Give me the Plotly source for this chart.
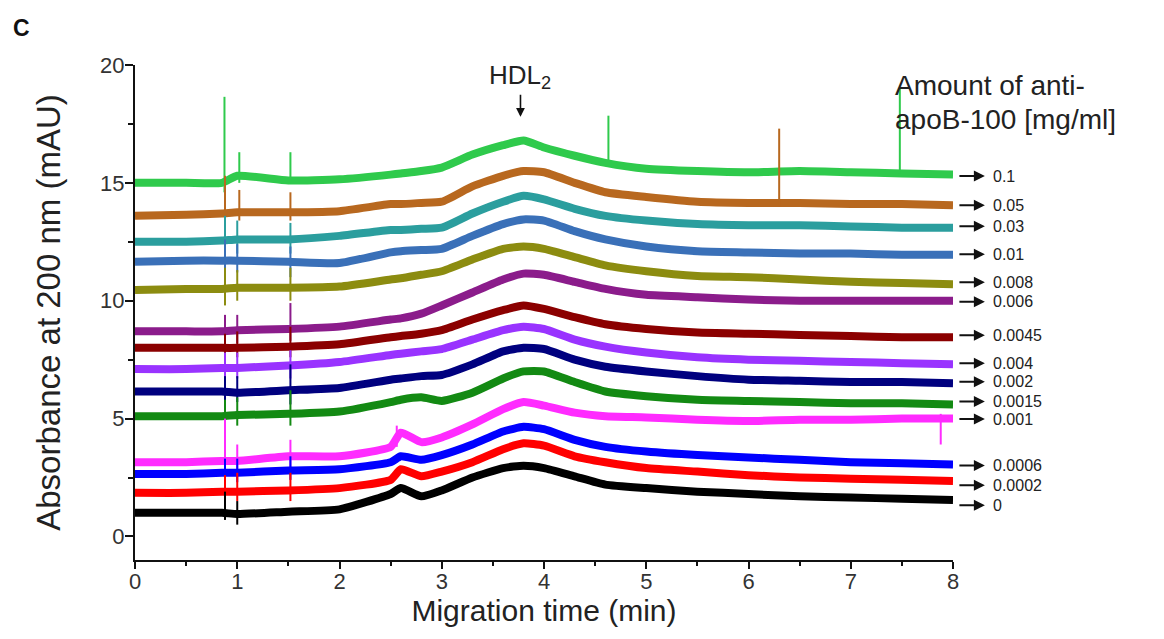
import plotly.graph_objects as go

# ---------------- data ----------------
times = [0, 0.5, 0.85, 1.0, 1.5, 2.0, 2.5, 2.6, 2.8, 3.0, 3.3, 3.6, 3.8, 4.0,
         4.3, 4.6, 5.0, 5.5, 6.0, 6.5, 7.0, 7.5, 8.0]

labels = ["0.1", "0.05", "0.03", "0.01", "0.008", "0.006", "0.0045",
          "0.004", "0.002", "0.0015", "0.001", "0.0006", "0.0002", "0"]

label_y = [15.29, 14.05, 13.16, 11.97, 10.78, 9.96, 8.54, 7.35, 6.56,
           5.72, 4.98, 3.01, 2.17, 1.32]

s_0_1 = [15.0, 15.0, 15.0, 15.3, 15.1, 15.15, 15.35, 15.4, 15.5, 15.65, 16.2, 16.6,
         16.8, 16.5, 16.15, 15.85, 15.6, 15.5, 15.45, 15.5, 15.45, 15.4, 15.35]
s_0_05 = [13.6, 13.65, 13.7, 13.75, 13.75, 13.8, 14.1, 14.1, 14.15, 14.2, 14.85, 15.3,
          15.5, 15.45, 15.0, 14.6, 14.4, 14.2, 14.15, 14.15, 14.1, 14.1, 14.05]
s_0_03 = [12.5, 12.5, 12.55, 12.6, 12.6, 12.75, 13.0, 13.0, 13.05, 13.1, 13.7, 14.2,
          14.45, 14.3, 13.9, 13.6, 13.4, 13.25, 13.2, 13.2, 13.15, 13.1, 13.1]
s_0_01 = [11.65, 11.7, 11.7, 11.7, 11.65, 11.6, 12.05, 12.1, 12.15, 12.2, 12.75, 13.25,
          13.45, 13.4, 12.95, 12.6, 12.3, 12.1, 12.05, 12.0, 12.0, 11.95, 11.95]
s_0_008 = [10.45, 10.5, 10.5, 10.55, 10.55, 10.6, 10.9, 10.95, 11.1, 11.25, 11.75, 12.2,
           12.3, 12.2, 11.85, 11.5, 11.25, 11.05, 11.0, 10.9, 10.8, 10.75, 10.7]
s_0_006 = [8.7, 8.7, 8.7, 8.75, 8.8, 8.9, 9.2, 9.25, 9.45, 9.8, 10.35, 10.9,
           11.15, 11.1, 10.8, 10.5, 10.25, 10.15, 10.05, 10.0, 10.0, 10.0, 10.0]
s_0_0045 = [8.0, 8.0, 8.0, 8.0, 8.05, 8.15, 8.45, 8.5, 8.6, 8.75, 9.2, 9.6,
            9.8, 9.65, 9.3, 9.0, 8.8, 8.65, 8.6, 8.55, 8.5, 8.45, 8.45]
s_0_004 = [7.1, 7.1, 7.15, 7.15, 7.25, 7.4, 7.7, 7.75, 7.85, 7.95, 8.35, 8.75,
           8.9, 8.8, 8.35, 8.05, 7.8, 7.6, 7.5, 7.45, 7.4, 7.35, 7.3]
s_0_002 = [6.15, 6.15, 6.15, 6.1, 6.2, 6.3, 6.65, 6.7, 6.8, 6.85, 7.3, 7.85,
           8.0, 7.95, 7.5, 7.2, 7.0, 6.8, 6.65, 6.6, 6.55, 6.55, 6.5]
s_0_0015 = [5.1, 5.1, 5.1, 5.15, 5.2, 5.3, 5.7, 5.8, 5.9, 5.75, 6.1, 6.7,
            7.0, 7.0, 6.55, 6.15, 5.95, 5.8, 5.75, 5.7, 5.65, 5.65, 5.6]
s_0_001 = [3.15, 3.15, 3.2, 3.2, 3.4, 3.4, 3.8, 4.4, 4.0, 4.2, 4.75, 5.4,
           5.7, 5.55, 5.25, 5.1, 5.05, 4.95, 4.9, 4.95, 4.95, 5.0, 5.0]
s_0_0006 = [2.65, 2.65, 2.7, 2.7, 2.8, 2.85, 3.15, 3.4, 3.25, 3.45, 3.9, 4.45,
            4.65, 4.55, 4.1, 3.8, 3.6, 3.45, 3.35, 3.25, 3.15, 3.1, 3.05]
s_0_0002 = [1.85, 1.85, 1.9, 1.9, 1.95, 2.05, 2.4, 2.85, 2.55, 2.75, 3.15, 3.7,
            3.95, 3.85, 3.4, 3.15, 2.9, 2.75, 2.6, 2.5, 2.45, 2.4, 2.35]
s_0 = [1.0, 1.0, 1.0, 0.95, 1.05, 1.15, 1.8, 2.05, 1.7, 1.95, 2.5, 2.9,
       3.0, 2.9, 2.55, 2.2, 2.05, 1.9, 1.8, 1.7, 1.65, 1.6, 1.55]

# spikes: (time, low, high)
k_0_1 = [(0.875, 14.6, 18.65), (1.02, 15.0, 16.3), (1.52, 15.0, 16.3),
         (4.63, 15.8, 17.85), (7.48, 15.4, 19.0)]
k_0_05 = [(0.88, 13.0, 15.3), (1.02, 13.4, 14.7), (1.52, 13.4, 14.6), (6.3, 14.0, 17.3)]
k_0_03 = [(0.88, 11.8, 13.6), (1.0, 12.0, 13.4), (1.52, 12.0, 13.3)]
k_0_01 = [(0.88, 11.0, 12.6), (1.0, 11.2, 12.4), (1.52, 11.0, 12.3)]
k_0_008 = [(0.88, 9.8, 11.4), (1.0, 10.0, 11.3), (1.52, 10.0, 11.4)]
k_0_006 = [(0.88, 5.0, 9.4), (1.0, 8.2, 9.4), (1.52, 8.3, 9.9)]
k_0_0045 = [(0.88, 6.0, 8.6), (1.0, 7.6, 8.7), (1.52, 7.6, 8.9)]
k_0_004 = [(0.88, 6.5, 7.8), (1.0, 6.7, 7.8), (1.52, 6.7, 7.9)]
k_0_002 = [(0.88, 5.5, 6.8), (1.0, 5.7, 6.8), (1.52, 5.6, 7.3)]
k_0_0015 = [(0.88, 4.5, 5.8), (1.0, 4.7, 5.9), (1.52, 4.7, 6.2)]
k_0_001 = [(0.88, 2.5, 5.0), (1.0, 2.8, 3.9), (1.52, 2.9, 4.1), (2.56, 3.8, 4.7),
           (7.88, 3.9, 5.2)]
k_0_0006 = [(0.88, 2.0, 3.3), (1.0, 2.3, 3.3), (1.52, 2.4, 3.4)]
k_0_0002 = [(0.88, 1.3, 2.6), (1.0, 1.5, 2.7), (1.52, 1.5, 2.7)]
k_0 = [(0.88, 0.7, 1.9), (1.0, 0.5, 1.5)]

series = [s_0_1, s_0_05, s_0_03, s_0_01, s_0_008, s_0_006, s_0_0045,
          s_0_004, s_0_002, s_0_0015, s_0_001, s_0_0006, s_0_0002, s_0]
spikes = [k_0_1, k_0_05, k_0_03, k_0_01, k_0_008, k_0_006, k_0_0045,
          k_0_004, k_0_002, k_0_0015, k_0_001, k_0_0006, k_0_0002, k_0]

colors = ["#2fca4c", "#b8681f", "#2b9e9e", "#3a70b8", "#8c8c10", "#8b1c8b",
          "#8b0000", "#9933ff", "#00007f", "#138a13", "#ff2bff", "#0000ff",
          "#ff0000", "#000000"]

FONT = "Liberation Sans, Arial, sans-serif"

fig = go.Figure()
for lab, ys, sp, col in zip(labels, series, spikes, colors):
    fig.add_trace(go.Scatter(x=times, y=ys, mode="lines", name=lab,
                             line=dict(color=col, width=8, shape="spline",
                                       smoothing=0.5),
                             showlegend=False, hoverinfo="skip"))
    sx, sy = [], []
    for t, lo, hi in sp:
        sx += [t, t, None]
        sy += [lo, hi, None]
    fig.add_trace(go.Scatter(x=sx, y=sy, mode="lines",
                             line=dict(color=col, width=2),
                             showlegend=False, hoverinfo="skip"))

annotations = []
for lab, ly in zip(labels, label_y):
    annotations.append(dict(xref="paper", yref="y", x=1.039, y=ly, ax=-27, ay=0,
                            text="", showarrow=True, arrowhead=2, arrowsize=1.1,
                            arrowwidth=2, arrowcolor="#111"))
    annotations.append(dict(xref="paper", yref="y", x=1.046, y=ly, text=lab,
                            showarrow=False, xanchor="left", yanchor="middle",
                            font=dict(family=FONT, size=16, color="#222")))

annotations += [
    dict(xref="x", yref="y", x=3.77, y=17.8, ax=0, ay=-40, text="HDL<sub>2</sub>",
         showarrow=True, arrowhead=2, arrowsize=1.1, arrowwidth=1.6,
         arrowcolor="#111", font=dict(family=FONT, size=26, color="#222")),
    dict(xref="paper", yref="paper", x=0.927, y=0.958, text="Amount of anti-",
         showarrow=False, xanchor="left", yanchor="middle",
         font=dict(family=FONT, size=28, color="#222")),
    dict(xref="paper", yref="paper", x=0.927, y=0.889, text="apoB-100 [mg/ml]",
         showarrow=False, xanchor="left", yanchor="middle",
         font=dict(family=FONT, size=28, color="#222")),
    dict(xref="paper", yref="paper", x=-0.152, y=1.075, text="<b>C</b>",
         showarrow=False, xanchor="left", yanchor="middle",
         font=dict(family=FONT, size=23, color="#111")),
]

# the page body has an 8px margin, so the margins are reduced by 8px
fig.update_layout(
    width=1164, height=639,
    margin=dict(l=127, r=219, t=57, b=87, autoexpand=False),
    plot_bgcolor="white", paper_bgcolor="white",
    annotations=annotations,
    xaxis=dict(range=[0, 8], showgrid=False, zeroline=False, automargin=False,
               showline=True, linecolor="#111", linewidth=2,
               ticks="outside", ticklen=7, tickwidth=2, tickcolor="#111",
               dtick=1, tick0=0, ticklabelstandoff=-6,
               minor=dict(dtick=0.5, ticks="outside", ticklen=4,
                          tickwidth=2, tickcolor="#111"),
               tickfont=dict(family=FONT, size=22, color="#333"),
               title=dict(text="Migration time (min)", standoff=0,
                          font=dict(family=FONT, size=30, color="#222"))),
    yaxis=dict(range=[-1, 20], showgrid=False, zeroline=False, automargin=False,
               showline=True, linecolor="#111", linewidth=2,
               ticks="outside", ticklen=8, tickwidth=2, tickcolor="#111",
               dtick=5, tick0=0, ticklabelstandoff=-4,
               minor=dict(dtick=2.5, ticks="outside", ticklen=5,
                          tickwidth=2, tickcolor="#111"),
               tickfont=dict(family=FONT, size=22, color="#333"),
               title=dict(text="Absorbance at 200 nm (mAU)", standoff=30,
                          font=dict(family=FONT, size=33, color="#222"))),
)

fig.write_html("out.html")
